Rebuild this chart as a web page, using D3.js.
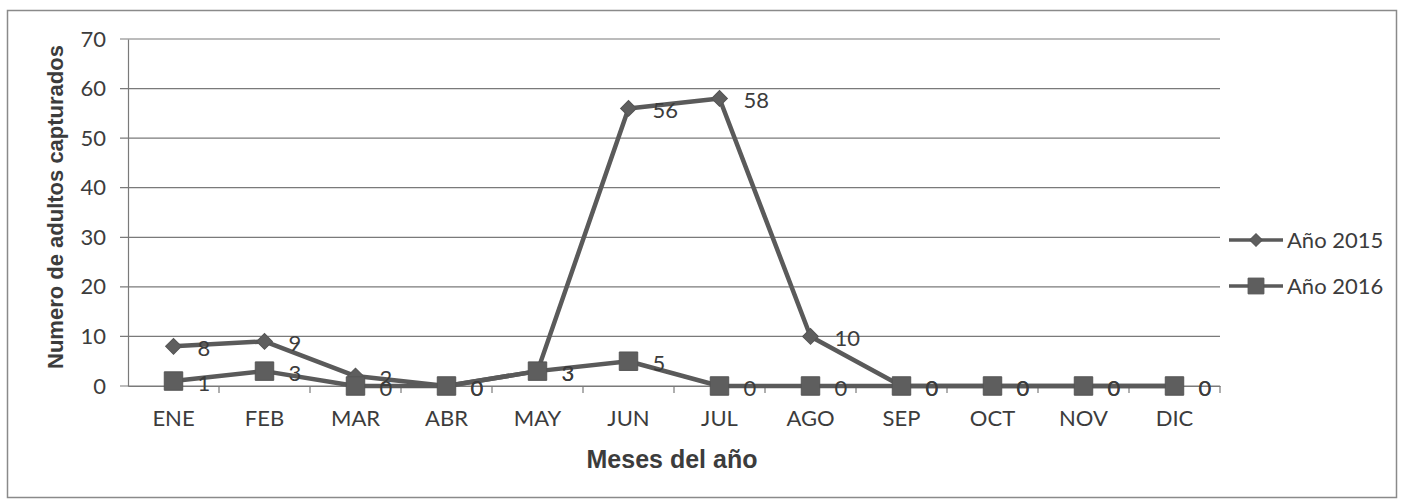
<!DOCTYPE html>
<html>
<head>
<meta charset="utf-8">
<script src="https://cdn.jsdelivr.net/npm/d3@7"></script>
<style>
  html, body { margin: 0; padding: 0; background: #fff; }
  svg { display: block; }
</style>
</head>
<body>
<svg id="chart" width="1401" height="501"></svg>
<script>
const months = ["ENE","FEB","MAR","ABR","MAY","JUN","JUL","AGO","SEP","OCT","NOV","DIC"];
const values2015 = [8, 9, 2, 0, 3, 56, 58, 10, 0, 0, 0, 0];
const values2016 = [1, 3, 0, 0, 3, 5, 0, 0, 0, 0, 0, 0];
const seriesNames = ["Año 2015", "Año 2016"];
const yTicks = [0, 10, 20, 30, 40, 50, 60, 70];
const yTitle = "Numero de adultos capturados";
const xTitle = "Meses del año";

(function () {
const svg = d3.select("#chart");
const ink = "#5a5a5a";
const textCol = "#3c3c3c";
const font = "Lato, 'Open Sans', sans-serif";
const fs = 22;

// frame
svg.append("rect").attr("x", 7.5).attr("y", 10.5).attr("width", 1389).attr("height", 487)
  .attr("fill", "#fff").attr("stroke", "#8a8a8a").attr("stroke-width", 1.5);

const pl = 128, pr = 1220, pt = 39, pb = 386;
const x = d3.scaleBand().domain(months).range([pl, pr]);
const y = d3.scaleLinear().domain([0, 70]).range([pb, pt]);

// gridlines
svg.append("g").selectAll("line").data(yTicks).join("line")
  .attr("x1", pl - 8).attr("x2", pr)
  .attr("y1", d => y(d)).attr("y2", d => y(d))
  .attr("stroke", "#7a7a7a").attr("stroke-width", 1.2);

// y axis
const yAxis = svg.append("g").attr("transform", `translate(${pl},0)`)
  .call(d3.axisLeft(y).tickValues(yTicks).tickSize(0).tickPadding(22));
yAxis.select(".domain").attr("stroke", "#7a7a7a").attr("stroke-width", 1.2);
yAxis.selectAll("text").attr("font-family", font).attr("font-size", fs).attr("fill", textCol);

// x axis
const xAxis = svg.append("g").attr("transform", `translate(0,${pb})`)
  .call(d3.axisBottom(x).tickSize(0).tickPadding(24));
xAxis.select(".domain").attr("stroke", "#7a7a7a").attr("stroke-width", 1.2);
xAxis.selectAll("text").attr("font-family", font).attr("font-size", fs).attr("fill", textCol);
// tick marks between categories
svg.append("g").selectAll("line").data(months).join("line")
  .attr("x1", d => x(d) + x.bandwidth()).attr("x2", d => x(d) + x.bandwidth())
  .attr("y1", pb).attr("y2", pb + 7)
  .attr("stroke", "#7a7a7a").attr("stroke-width", 1.2);

// axis titles
svg.append("text").attr("transform", `translate(63,207) rotate(-90)`)
  .attr("text-anchor", "middle").attr("font-family", "'Liberation Sans', Arial, sans-serif")
  .attr("font-weight", "bold").attr("font-size", 22).attr("fill", textCol).text(yTitle);
svg.append("text").attr("x", 672).attr("y", 468)
  .attr("text-anchor", "middle").attr("font-family", "'Liberation Sans', Arial, sans-serif")
  .attr("font-weight", "bold").attr("font-size", 25).attr("fill", textCol).text(xTitle);

const cx = d => x(d) + x.bandwidth() / 2;
const line = d3.line().x((d, i) => cx(months[i])).y(d => y(d));

const diamond = d3.symbol().type(d3.symbolSquare).size(125);
const square = d3.symbol().type(d3.symbolSquare).size(340);

const data = [values2015, values2016];
const syms = [diamond, square];
const rots = [45, 0];

data.forEach((vals) => {
  svg.append("path").datum(vals).attr("d", line)
    .attr("fill", "none").attr("stroke", ink).attr("stroke-width", 4.5).attr("stroke-linejoin", "round");
});
data.forEach((vals, si) => {
  svg.append("g").selectAll("path").data(vals).join("path")
    .attr("d", syms[si])
    .attr("transform", (d, i) => `translate(${cx(months[i])},${y(d)}) rotate(${rots[si]})`)
    .attr("fill", "#5e5e5e").attr("stroke", "#555").attr("stroke-width", 1);
});
data.forEach((vals) => {
  svg.append("g").selectAll("text").data(vals).join("text")
    .attr("x", (d, i) => cx(months[i]) + 24)
    .attr("y", d => y(d) + 10)
    .attr("font-family", font).attr("font-size", fs).attr("fill", textCol)
    .text(d => d);
});

// legend
const lg = svg.append("g");
seriesNames.forEach((name, i) => {
  const ly = 240 + i * 46;
  lg.append("line").attr("x1", 1229).attr("x2", 1283).attr("y1", ly).attr("y2", ly)
    .attr("stroke", ink).attr("stroke-width", 3.5);
  lg.append("path").attr("d", i === 0 ? d3.symbol().type(d3.symbolSquare).size(80)() : d3.symbol().type(d3.symbolSquare).size(250)())
    .attr("transform", `translate(1256,${ly}) rotate(${rots[i]})`)
    .attr("fill", "#5e5e5e").attr("stroke", "#555");
  lg.append("text").attr("x", 1287).attr("y", ly + 8)
    .attr("font-family", font).attr("font-size", fs).attr("fill", textCol).text(name);
});
})();
</script>
</body>
</html>
